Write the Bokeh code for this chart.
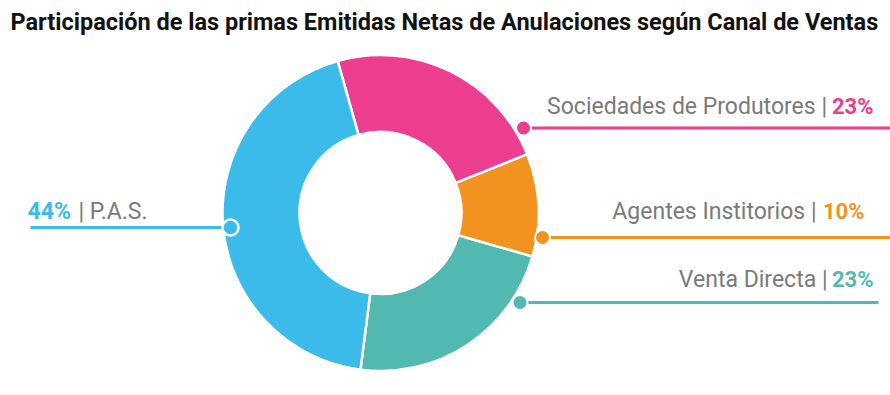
import math
from bokeh.plotting import figure
from bokeh.models import Range1d, ColumnDataSource
from bokeh.core.properties import value
from bokeh.embed import file_html
from bokeh.resources import INLINE

# ---------------- data ----------------
title_text = "Participación de las primas Emitidas Netas de Anulaciones según Canal de Ventas"
# counter-clockwise order, starting at the bottom of the ring
channels = ["Venta Directa", "Agentes Institorios", "Sociedades de Produtores", "P.A.S."]
shares = [22.6, 10.5, 23.3, 43.6]
pct_labels = ["23%", "10%", "23%", "44%"]
colors = ["#52B9B1", "#F3931F", "#EC3D8E", "#3BBBEA"]

# ---------------- layout (screen pixels in the 890x395 window) ----------------
W, H = 890, 395
def Y(sy):
    return H - sy

cx, cy = 380, 212.5
r_out, r_in = 158, 81
start_deg = -97.3

# per label: dot x, line y, line end x, text baseline, pct edge, name edge, side
dot_x = [519.5, 542, 523, 230]
line_y = [302, 237, 127.5, 227]
line_end = [878, 890, 890, 30]
text_base = [285.5, 218, 113, 218]
pct_edge = [873, 864, 873, 27]
name_edge = [827, 816, 826.5, 78]
side = ["right", "right", "right", "left"]
FS = 23
PFS = 22
BASE_FIX = 0.3  # em: Bokeh's svg text sits this much below the requested baseline

grey = "#7A7A7A"
font = "Roboto"

p = figure(width=W, height=H,
           x_range=Range1d(0, W), y_range=Range1d(0, H),
           output_backend="svg", toolbar_location=None, min_border=0,
           outline_line_color=None)
p.axis.visible = False
p.grid.visible = False
p.background_fill_color = "white"
p.border_fill_color = "white"

# wedges
total = sum(shares)
starts, ends = [], []
a = math.radians(start_deg)
for s in shares:
    starts.append(a)
    a += 2 * math.pi * s / total
    ends.append(a)
src = ColumnDataSource(dict(start=starts, end=ends, color=colors, name=channels))
p.annular_wedge(x=cx, y=Y(cy), inner_radius=r_in, outer_radius=r_out,
                start_angle="start", end_angle="end", fill_color="color",
                line_color="white", line_width=2.5, source=src)

# connector lines and dots
for i in range(len(channels)):
    p.segment(x0=dot_x[i], y0=Y(line_y[i]), x1=line_end[i], y1=Y(line_y[i]),
              line_color=colors[i], line_width=3)
for i in range(len(channels)):
    p.scatter(x=[dot_x[i]], y=[Y(line_y[i])], size=16 if side[i] == "left" else 15,
              fill_color=colors[i], line_color="white", line_width=2.5 if side[i] == "left" else 2)

# labels
for i in range(len(channels)):
    ty = Y(text_base[i] - BASE_FIX * FS)
    if side[i] == "right":
        p.text(x=[pct_edge[i]], y=[ty], text=[pct_labels[i]],
               text_align="right", text_baseline="alphabetic",
               text_font=value(font), text_font_style="bold",
               text_font_size=f"{PFS}px", text_color=colors[i])
        p.text(x=[name_edge[i]], y=[ty], text=[channels[i] + " |"],
               text_align="right", text_baseline="alphabetic",
               text_font=value(font), text_font_size=f"{FS}px", text_color=grey)
    else:
        p.text(x=[pct_edge[i]], y=[ty], text=[pct_labels[i]],
               text_align="left", text_baseline="alphabetic",
               text_font=value(font), text_font_style="bold",
               text_font_size=f"{FS}px", text_color=colors[i])
        p.text(x=[name_edge[i]], y=[ty], text=["| " + channels[i]],
               text_align="left", text_baseline="alphabetic",
               text_font=value(font), text_font_size=f"{FS}px", text_color=grey)

# title
TFS = 23.5
p.text(x=[10], y=[Y(28.3 - BASE_FIX * TFS)], text=[title_text], text_align="left",
       text_baseline="alphabetic", text_font=value(font), text_font_style="bold",
       text_font_size=f"{TFS}px", text_color="#111111")

open("out.html", "w").write(file_html(p, INLINE))
